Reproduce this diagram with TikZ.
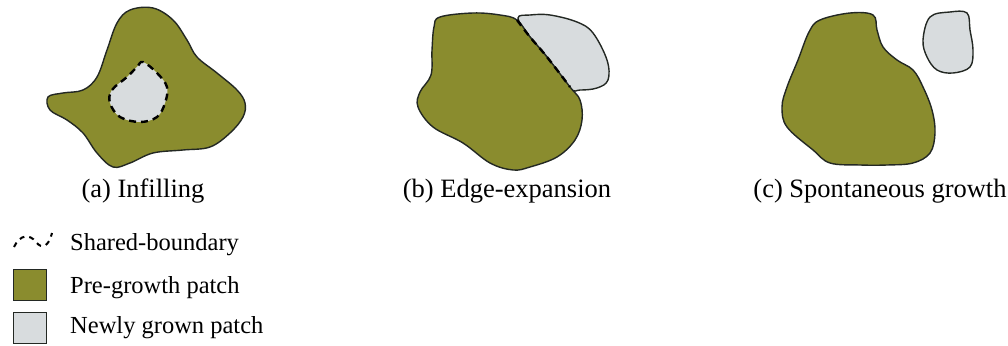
\documentclass[tikz,border=0pt]{standalone}
\usepackage{fontspec}
\setmainfont{Liberation Serif}
\definecolor{olive}{RGB}{138,140,46}
\definecolor{newgray}{RGB}{216,220,222}
\definecolor{edge}{RGB}{35,40,35}
\begin{document}
\begin{tikzpicture}[x=1pt,y=-1pt,
  oldpatch/.style={fill=olive,draw=edge,line width=1.4pt},
  newpatch/.style={fill=newgray,draw=edge,line width=1.4pt},
  shared/.style={draw=black,line width=2.6pt,dash pattern=on 7pt off 5pt},
  caption/.style={font=\fontsize{26.5}{30}\selectfont,anchor=base,inner sep=0pt},
  legtext/.style={font=\fontsize{24.5}{30}\selectfont,anchor=base west,inner sep=0pt},
  legbox/.style={line width=1pt,draw=edge}]
\useasboundingbox (0,0) rectangle (1008,345);

% (a) Infilling
\path[oldpatch] plot[smooth cycle,tension=0.6] coordinates {
 (130,10) (153,8) (173,20) (187,40) (197,57) (217,73) (237,90) (245,103)
 (243,117) (230,133) (210,147) (183,150) (153,153) (130,163) (113,167)
 (97,153) (83,133) (67,120) (50,110) (48,97) (63,93) (83,90) (97,77)
 (107,50) (117,23)};
\path[fill=newgray,shared,line width=2.4pt] plot[smooth cycle,tension=0.6] coordinates {
 (143,62) (157,73) (167,87) (165,103) (157,117) (140,122) (120,117)
 (110,103) (112,90) (127,77) (137,67)};

% (b) Edge-expansion
\path[newpatch] plot[smooth cycle,tension=0.6] coordinates {
 (518,18) (530,15) (550,15) (577,22) (593,33) (607,60) (608,80)
 (597,88) (580,90) (570,88) (547,57) (530,37)};
\path[oldpatch] plot[smooth cycle,tension=0.6] coordinates {
 (440,17) (473,13) (500,15) (517,20) (530,37) (547,57) (570,87) (580,100)
 (582,120) (575,140) (557,157) (530,167) (513,170) (490,163) (463,143)
 (433,127) (418,107) (420,92) (431,75) (432,50) (434,27)};
\path[shared,line width=2.4pt] plot[smooth,tension=0.6] coordinates {
 (517,20) (530,37) (547,57) (570,87)};

% (c) Spontaneous growth
\path[oldpatch] plot[smooth cycle,tension=0.6] coordinates {
 (820,20) (850,13) (873,15) (877,30) (883,47) (897,60) (913,70) (923,87) (932,110)
 (935,133) (930,153) (913,163) (887,165) (860,165) (830,163) (813,150)
 (787,127) (782,107) (787,87) (798,60) (809,32)};
\path[newpatch] plot[smooth cycle,tension=0.6] coordinates {
 (930,17) (950,12) (967,13) (970,30) (973,50) (970,67) (953,73)
 (937,70) (927,57) (923,40)};

% captions
\node[caption] (capa) at (143,197) {(a) Infilling};
\node[caption] (capb) at (507,197) {(b) Edge-expansion};
\node[caption] (capc) at (880,197) {(c) Spontaneous growth};

% legend
\path[draw=black,line width=2pt,dash pattern=on 5pt off 5pt]
  (14,247) .. controls (20,234) and (30,234) .. (36,242) .. controls (42,250) and (49,246) .. (52,233);
\node[legtext] (lshared) at (70,250) {Shared-boundary};
\path[legbox,fill=olive] (13,269) rectangle (46,300);
\node[legtext] (lpre) at (70,293) {Pre-growth patch};
\path[legbox,fill=newgray] (13,312) rectangle (46,343);
\node[legtext] (lnew) at (70,333) {Newly grown patch};
\end{tikzpicture}
\end{document}
